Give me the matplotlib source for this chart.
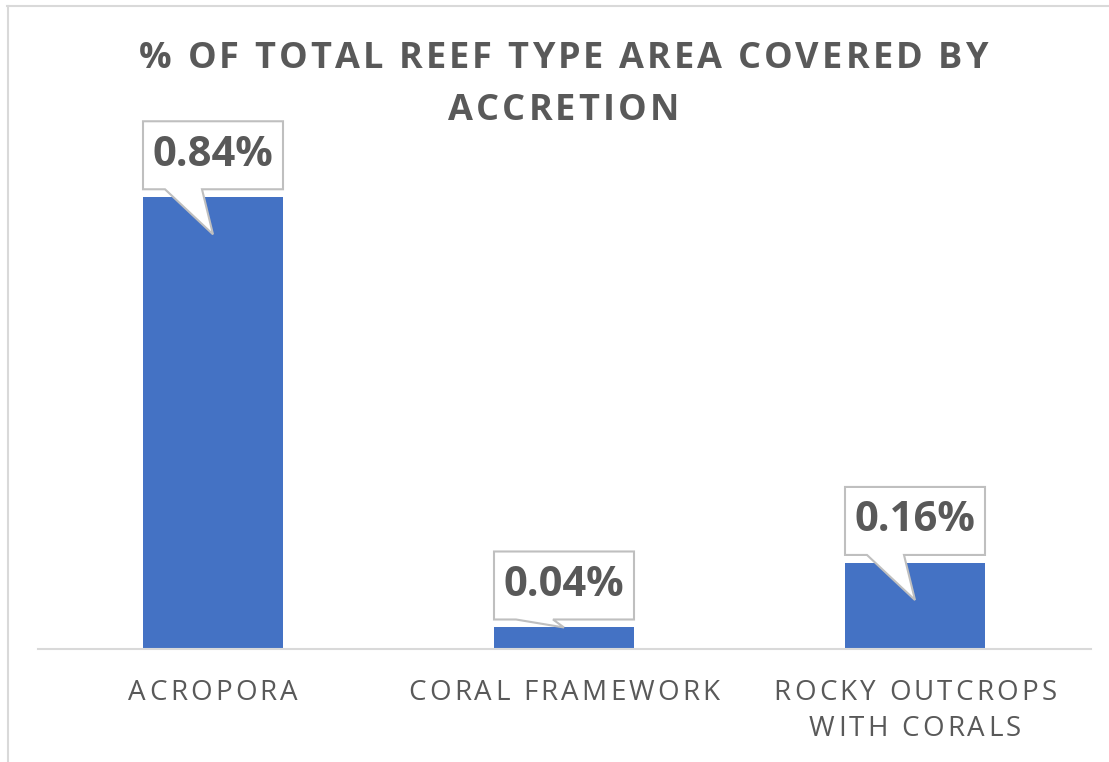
import matplotlib
matplotlib.use("Agg")
import matplotlib.pyplot as plt
from matplotlib.patches import Polygon
from matplotlib.lines import Line2D
from matplotlib.font_manager import FontProperties

categories = ["ACROPORA", "CORAL FRAMEWORK", "ROCKY OUTCROPS\nWITH CORALS"]
values = [0.84, 0.04, 0.16]
labels = ["0.84%", "0.04%", "0.16%"]
title = "% OF TOTAL REEF TYPE AREA COVERED BY\nACCRETION"

GREY = "#595959"
W, H = 1109, 762
fig = plt.figure(figsize=(W / 100, H / 100), dpi=100)
ax = fig.add_axes([37.5 / W, (H - 649) / H, 1053 / W, 484 / H])

ax.bar(range(len(values)), values, width=0.4, color="#4472C4", zorder=2)
ax.set_xlim(-0.5, 2.5)
ax.set_ylim(0, 0.9)
ax.set_yticks([])
for s in ["top", "right", "left"]:
    ax.spines[s].set_visible(False)
ax.spines["bottom"].set_color("#d9d9d9")
ax.spines["bottom"].set_linewidth(1.5)
ax.set_xticks(range(len(categories)))
ax.set_xticklabels([])
ax.tick_params(axis="x", length=0)

fig.canvas.draw()
renderer = fig.canvas.get_renderer()


def adv(ch, fp):
    # advance width of a char, measured between two bars
    w1 = renderer.get_text_width_height_descent("|" + ch + "|", fp, ismath=False)[0]
    w0 = renderer.get_text_width_height_descent("||", fp, ismath=False)[0]
    return w1 - w0


def spaced(cx, base_y, s, fp, track, line_gap):
    # letter-spaced text, centred on cx, baselines in image pixels (y down)
    for k, line in enumerate(s.split("\n")):
        widths = [adv(c, fp) for c in line]
        total = sum(widths) + track * (len(line) - 1)
        x = cx - total / 2
        y = base_y + k * line_gap
        for c, w in zip(line, widths):
            if c != " ":
                fig.text(x / W, (H - y) / H, c, fontproperties=fp,
                         color=GREY, ha="left", va="baseline")
            x += w + track


title_fp = FontProperties(family="Open Sans", weight="bold", size=26)
spaced(563.5, 68, title, title_fp, 3.1, 52)

tick_fp = FontProperties(family="Open Sans", size=20)
for i, cat in enumerate(categories):
    cx = ax.transData.transform((i, 0))[0]
    spaced(cx, 700, cat, tick_fp, 3.2, 36)

# callouts, drawn in pixel space
for i, (v, lab) in enumerate(zip(values, labels)):
    cx, ty = ax.transData.transform((i, v))
    tip_v = v - 0.069 if v > 0.1 else v
    _, tipy = ax.transData.transform((i, tip_v))
    bot = ty + 8
    top = bot + 68
    pts = [(cx - 70, bot), (cx - 48, bot), (cx, tipy), (cx - 11, bot),
           (cx + 70, bot), (cx + 70, top), (cx - 70, top)]
    fig.patches.append(Polygon(pts, closed=True, facecolor="white",
                               edgecolor="#bfbfbf", linewidth=1.5,
                               transform=None, figure=fig, zorder=5))
    fig.text(cx / W, (bot + top) / 2 / H, lab, ha="center", va="center",
             fontsize=30, fontweight="bold", color=GREY,
             family="Open Sans", zorder=6)

# chart frame
fig.add_artist(Line2D([7.5 / W, 7.5 / W], [0, 1 - 6 / H], color="#d9d9d9", lw=1.5))
fig.add_artist(Line2D([7 / W, 1], [1 - 6 / H, 1 - 6 / H], color="#d9d9d9", lw=1.5))

fig.savefig("out.png", dpi=100)
